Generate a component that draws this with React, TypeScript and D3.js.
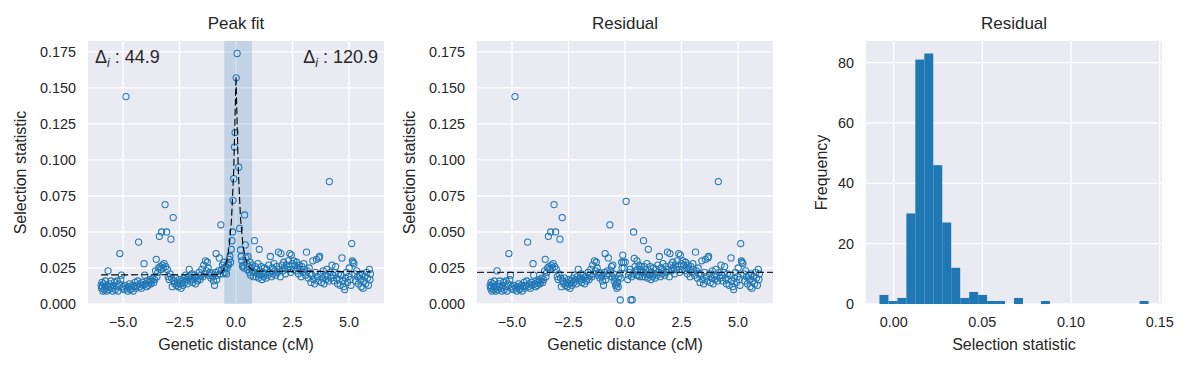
import React from "react";
import * as d3 from "d3";

// ---------------- data ----------------
// Observed selection statistic away from the peak (shared by "Peak fit" and "Residual")
const outerLeft: [number, number][] = [
  [-5.97,0.013],[-5.95,0.011],[-5.93,0.015],[-5.91,0.012],[-5.89,0.009],[-5.86,0.014],[-5.83,0.010],[-5.80,0.012],
  [-5.78,0.016],[-5.75,0.011],[-5.72,0.009],[-5.69,0.013],[-5.66,0.023],[-5.63,0.010],[-5.60,0.014],[-5.56,0.012],
  [-5.53,0.016],[-5.49,0.011],[-5.45,0.009],[-5.42,0.013],[-5.38,0.015],[-5.34,0.010],[-5.30,0.012],[-5.26,0.016],
  [-5.22,0.009],[-5.18,0.014],[-5.14,0.035],[-5.10,0.017],[-5.07,0.020],[-5.03,0.011],[-4.99,0.012],[-4.95,0.010],
  [-4.91,0.013],[-4.87,0.144],[-4.83,0.011],[-4.79,0.009],[-4.75,0.012],[-4.71,0.014],[-4.67,0.010],[-4.63,0.011],
  [-4.59,0.013],[-4.55,0.009],[-4.51,0.012],[-4.47,0.015],[-4.43,0.011],[-4.39,0.013],[-4.35,0.016],[-4.31,0.043],
  [-4.27,0.012],[-4.23,0.014],[-4.19,0.011],[-4.15,0.015],[-4.11,0.013],[-4.07,0.028],[-4.04,0.020],[-4.00,0.014],
  [-3.96,0.012],[-3.92,0.016],[-3.88,0.013],[-3.84,0.015],[-3.80,0.017],[-3.76,0.014],[-3.72,0.016],[-3.68,0.018],
  [-3.64,0.015],[-3.60,0.017],[-3.56,0.023],[-3.53,0.031],[-3.50,0.019],[-3.46,0.022],[-3.42,0.025],[-3.39,0.047],
  [-3.36,0.026],[-3.33,0.024],[-3.29,0.050],[-3.26,0.027],[-3.22,0.025],[-3.18,0.028],[-3.14,0.069],[-3.11,0.026],
  [-3.07,0.050],[-3.04,0.024],[-3.00,0.019],[-2.96,0.017],[-2.92,0.021],[-2.88,0.045],[-2.85,0.018],[-2.82,0.012],
  [-2.78,0.060],[-2.75,0.016],[-2.71,0.014],[-2.67,0.018],[-2.63,0.013],[-2.59,0.015],[-2.55,0.012],[-2.51,0.017],
  [-2.47,0.014],[-2.43,0.011],[-2.39,0.016],[-2.35,0.013],[-2.31,0.018],[-2.27,0.015],[-2.23,0.020],[-2.19,0.017],
  [-2.15,0.014],[-2.11,0.019],[-2.07,0.024],[-2.03,0.016],[-1.99,0.018],[-1.95,0.021],[-1.91,0.015],[-1.87,0.017],
  [-1.83,0.020],[-1.79,0.014],[-1.75,0.019],[-1.71,0.016],[-1.67,0.018],[-1.63,0.022],[-1.59,0.017],[-1.55,0.020],
  [-1.51,0.024],[-1.47,0.019],[-1.43,0.027],[-1.39,0.021],[-1.35,0.030],[-1.31,0.023],[-1.27,0.029],[-1.23,0.025],
  [-1.19,0.020],[-1.15,0.022],[-1.11,0.018],[-1.07,0.021],[-1.03,0.019],[-0.99,0.016],[-0.95,0.013],[-0.91,0.022],
  [-0.88,0.035],[-0.85,0.017],[-0.82,0.020],[-0.78,0.023],[-0.74,0.032],[-0.71,0.021],[-0.67,0.055],
];

// Points under the peak: [position, observed, residual]
const centerPts: [number, number, number][] = [
  [-0.63,0.024,0.023],[-0.60,0.027,0.026],[-0.57,0.021,0.019],[-0.54,0.029,0.027],[-0.51,0.025,0.021],
  [-0.48,0.022,0.016],[-0.45,0.026,0.018],[-0.42,0.021,0.013],[-0.39,0.025,0.014],[-0.36,0.028,0.011],
  [-0.33,0.027,0.015],[-0.30,0.031,0.012],[-0.27,0.033,0.019],[-0.24,0.029,0.021],[-0.21,0.038,0.0028],
  [-0.18,0.044,0.018],[-0.15,0.050,0.029],[-0.13,0.072,0.025],[-0.10,0.087,0.034],[-0.07,0.109,0.029],
  [-0.04,0.119,0.025],[0.01,0.157,0.029],[0.05,0.174,0.0713],[0.12,0.095,0.017],[0.16,0.0525,0.020],
  [0.20,0.0375,0.022],[0.23,0.033,0.024],[0.26,0.030,0.0028],[0.29,0.026,0.019],[0.32,0.027,0.003],
  [0.35,0.025,0.021],[0.38,0.0618,0.050],[0.41,0.041,0.0317],[0.44,0.032,0.026],[0.47,0.028,0.023],
  [0.50,0.024,0.020],[0.53,0.033,0.030],[0.56,0.026,0.024],[0.59,0.022,0.020],[0.62,0.029,0.027],
  [0.65,0.020,0.019],[0.68,0.025,0.024],[0.71,0.023,0.022],[0.74,0.027,0.026],[0.77,0.019,0.019],
];

const outerRight: [number, number][] = [
  [0.80,0.022],[0.82,0.044],[0.85,0.026],[0.88,0.019],[0.91,0.024],[0.94,0.021],[0.97,0.028],[1.00,0.018],
  [1.03,0.038],[1.06,0.023],[1.09,0.020],[1.12,0.026],[1.15,0.017],[1.19,0.022],[1.22,0.019],[1.26,0.025],
  [1.29,0.021],[1.33,0.018],[1.37,0.024],[1.41,0.020],[1.45,0.027],[1.49,0.022],[1.52,0.033],[1.56,0.019],
  [1.60,0.025],[1.64,0.021],[1.68,0.028],[1.72,0.023],[1.76,0.020],[1.80,0.026],[1.84,0.022],[1.88,0.036],
  [1.92,0.024],[1.96,0.019],[1.99,0.035],[2.03,0.027],[2.07,0.023],[2.11,0.029],[2.15,0.025],[2.19,0.021],
  [2.23,0.027],[2.27,0.024],[2.31,0.030],[2.35,0.026],[2.38,0.035],[2.42,0.022],[2.45,0.034],[2.49,0.028],
  [2.53,0.024],[2.56,0.030],[2.60,0.027],[2.64,0.023],[2.68,0.029],[2.72,0.025],[2.76,0.021],[2.80,0.027],
  [2.84,0.024],[2.88,0.019],[2.92,0.026],[2.96,0.022],[3.00,0.028],[3.04,0.024],[3.08,0.020],[3.12,0.036],
  [3.16,0.023],[3.20,0.018],[3.24,0.025],[3.28,0.021],[3.32,0.015],[3.36,0.020],[3.40,0.030],[3.44,0.017],
  [3.48,0.014],[3.52,0.022],[3.56,0.031],[3.60,0.019],[3.64,0.016],[3.67,0.032],[3.70,0.033],[3.74,0.021],
  [3.78,0.015],[3.82,0.018],[3.86,0.023],[3.90,0.014],[3.94,0.020],[3.98,0.017],[4.02,0.024],[4.06,0.019],
  [4.10,0.016],[4.13,0.085],[4.17,0.022],[4.21,0.018],[4.25,0.027],[4.29,0.020],[4.33,0.016],[4.37,0.022],
  [4.41,0.026],[4.45,0.018],[4.49,0.014],[4.53,0.021],[4.57,0.017],[4.61,0.013],[4.65,0.020],[4.69,0.032],
  [4.73,0.016],[4.77,0.012],[4.81,0.010],[4.85,0.018],[4.89,0.022],[4.93,0.015],[4.97,0.019],[5.01,0.025],
  [5.05,0.017],[5.09,0.013],[5.12,0.042],[5.15,0.030],[5.18,0.029],[5.22,0.028],[5.26,0.021],[5.30,0.016],
  [5.34,0.023],[5.38,0.019],[5.42,0.014],[5.46,0.020],[5.50,0.017],[5.54,0.012],[5.58,0.021],[5.62,0.011],
  [5.66,0.016],[5.70,0.019],[5.74,0.014],[5.78,0.022],[5.82,0.018],[5.86,0.013],[5.90,0.024],[5.93,0.017],
  [5.95,0.021],
];

// Fitted peak curve (dashed)
const fitX = [-5.97, -0.70, -0.60, -0.50, -0.40, -0.30, -0.20, -0.10, 0.00, 0.10, 0.20, 0.30, 0.40, 0.50, 0.60, 0.70, 0.90, 5.95];
const fitY = [0.0202, 0.0204, 0.0225, 0.0255, 0.0305, 0.0400, 0.0585, 0.0930, 0.1580, 0.0935, 0.0595, 0.0420, 0.0325, 0.0278, 0.0252, 0.0238, 0.0228, 0.0224];

const peakSpan = [-0.52, 0.71];
const residualBaseline = 0.022;
const deltaLeft = "44.9";
const deltaRight = "120.9";

// Histogram of residuals
const histStart = -0.0080;
const histBinWidth = 0.005058;
const histCounts = [3, 1, 2, 30, 81, 83, 46, 27, 12, 2, 4, 3, 1, 1, 0, 2, 0, 0, 1, 0, 0, 0, 0, 0, 0, 0, 0, 0, 0, 1];

const distTicks = [-5, -2.5, 0, 2.5, 5];
const statTicks = [0, 0.025, 0.05, 0.075, 0.1, 0.125, 0.15, 0.175];
const freqTicks = [0, 20, 40, 60, 80];
const histXTicks = [0, 0.05, 0.1, 0.15];

// ---------------- layout ----------------
const W = 1191, H = 368;
const TOP = 41, BOTTOM = 304;
const PW = 296;
const LEFTS = [88, 477, 866];
const FONT = '"Liberation Sans", Arial, Helvetica, sans-serif';
const TXT = "#262626";
const BG = "#EAEAF2";
const BLUE = "#1f77b4";

const fmtDist = (v: number) => (v < 0 ? "\u2212" : "") + Math.abs(v).toFixed(1);

function Frame({ left, xs, ys, xTicks, yTicks, xFmt, yFmt, title, xLabel, yLabel, yLabelOffset, children }: any) {
  const cy = (TOP + BOTTOM) / 2;
  return (
    <g>
      <rect x={left} y={TOP} width={PW} height={BOTTOM - TOP} fill={BG} />
      {xTicks.map((t: number) => (
        <line key={"gx" + t} x1={xs(t)} x2={xs(t)} y1={TOP} y2={BOTTOM} stroke="#fff" strokeWidth={1.3} />
      ))}
      {yTicks.map((t: number) => (
        <line key={"gy" + t} x1={left} x2={left + PW} y1={ys(t)} y2={ys(t)} stroke="#fff" strokeWidth={1.3} />
      ))}
      {children}
      {xTicks.map((t: number) => (
        <text key={"tx" + t} x={xs(t)} y={BOTTOM + 23} textAnchor="middle" fontSize={14.4} fill={TXT} fontFamily={FONT}>
          {xFmt(t)}
        </text>
      ))}
      {yTicks.map((t: number) => (
        <text key={"ty" + t} x={left - 12} y={ys(t)} dy="0.36em" textAnchor="end" fontSize={14.4} fill={TXT} fontFamily={FONT}>
          {yFmt(t)}
        </text>
      ))}
      <text x={left + PW / 2} y={29} textAnchor="middle" fontSize={17} fill={TXT} fontFamily={FONT}>{title}</text>
      <text x={left + PW / 2} y={BOTTOM + 46} textAnchor="middle" fontSize={16} fill={TXT} fontFamily={FONT}>{xLabel}</text>
      <text transform={`translate(${left - yLabelOffset},${cy}) rotate(-90)`} textAnchor="middle" fontSize={16} fill={TXT} fontFamily={FONT}>
        {yLabel}
      </text>
    </g>
  );
}

function Delta({ x, y, anchor, value }: any) {
  return (
    <text x={x} y={y} textAnchor={anchor} fontSize={18} fill={TXT} fontFamily={FONT}>
      <tspan>Δ</tspan>
      <tspan fontSize={12.5} fontStyle="italic" dy={4}>i</tspan>
      <tspan dy={-4}>{" : " + value}</tspan>
    </text>
  );
}

export default function App() {
  const ys = d3.scaleLinear().domain([0, 0.1826]).range([BOTTOM, TOP]);
  const xs1 = d3.scaleLinear().domain([-6.55, 6.55]).range([LEFTS[0], LEFTS[0] + PW]);
  const xs2 = d3.scaleLinear().domain([-6.55, 6.55]).range([LEFTS[1], LEFTS[1] + PW]);
  const histEnd = histStart + histBinWidth * histCounts.length;
  const pad = (histEnd - histStart) * 0.05;
  const xs3 = d3.scaleLinear().domain([histStart - pad, histEnd + pad]).range([LEFTS[2], LEFTS[2] + PW]);
  const ys3 = d3.scaleLinear().domain([0, d3.max(histCounts)! * 1.05]).range([BOTTOM, TOP]);

  const observed: [number, number][] = [...outerLeft, ...centerPts.map((d) => [d[0], d[1]] as [number, number]), ...outerRight];
  const residual: [number, number][] = [...outerLeft, ...centerPts.map((d) => [d[0], d[2]] as [number, number]), ...outerRight];

  const fitLine = d3.line<number>().x((_, i) => xs1(fitX[i])).y((d) => ys(d))(fitY) || "";

  const statFmt = (v: number) => v.toFixed(3);

  return (
    <svg width={W} height={H} style={{ position: "absolute", left: 0, top: 0, background: "#fff" }}>
      {/* Panel 1 */}
      <Frame left={LEFTS[0]} xs={xs1} ys={ys} xTicks={distTicks} yTicks={statTicks} xFmt={fmtDist} yFmt={statFmt}
        title="Peak fit" xLabel="Genetic distance (cM)" yLabel="Selection statistic" yLabelOffset={62}>
        <rect x={xs1(peakSpan[0])} y={TOP} width={xs1(peakSpan[1]) - xs1(peakSpan[0])} height={BOTTOM - TOP} fill={BLUE} fillOpacity={0.2} />
        {observed.map((d, i) => (
          <circle key={i} cx={xs1(d[0])} cy={ys(d[1])} r={3.1} fill="none" stroke={BLUE} strokeWidth={1.05} />
        ))}
        <path d={fitLine} fill="none" stroke="#000" strokeWidth={1.1} strokeDasharray="7,3" />
        <Delta x={95} y={63} anchor="start" value={deltaLeft} />
        <Delta x={378} y={63} anchor="end" value={deltaRight} />
      </Frame>

      {/* Panel 2 */}
      <Frame left={LEFTS[1]} xs={xs2} ys={ys} xTicks={distTicks} yTicks={statTicks} xFmt={fmtDist} yFmt={statFmt}
        title="Residual" xLabel="Genetic distance (cM)" yLabel="Selection statistic" yLabelOffset={62}>
        {residual.map((d, i) => (
          <circle key={i} cx={xs2(d[0])} cy={ys(d[1])} r={3.1} fill="none" stroke={BLUE} strokeWidth={1.05} />
        ))}
        <line x1={LEFTS[1]} x2={LEFTS[1] + PW} y1={ys(residualBaseline)} y2={ys(residualBaseline)} stroke="#000" strokeWidth={1} strokeDasharray="7,3" />
      </Frame>

      {/* Panel 3 */}
      <Frame left={LEFTS[2]} xs={xs3} ys={ys3} xTicks={histXTicks} yTicks={freqTicks} xFmt={(v: number) => v.toFixed(2)} yFmt={(v: number) => String(v)}
        title="Residual" xLabel="Selection statistic" yLabel="Frequency" yLabelOffset={39}>
        {histCounts.map((c, i) =>
          c > 0 ? (
            <rect key={i} x={xs3(histStart + i * histBinWidth)} y={ys3(c)}
              width={xs3(histStart + (i + 1) * histBinWidth) - xs3(histStart + i * histBinWidth)}
              height={ys3(0) - ys3(c)} fill={BLUE} />
          ) : null
        )}
      </Frame>
    </svg>
  );
}
